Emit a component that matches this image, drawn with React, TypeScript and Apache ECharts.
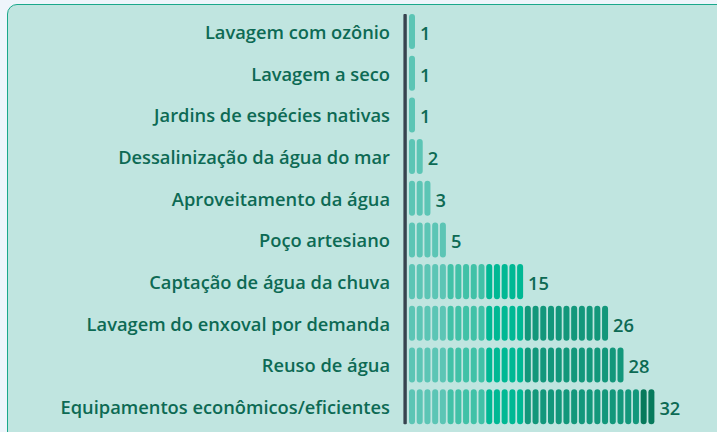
import React, { useEffect, useRef } from "react";
import * as echarts from "echarts";

const categories = [
  "Lavagem com ozônio",
  "Lavagem a seco",
  "Jardins de espécies nativas",
  "Dessalinização da água do mar",
  "Aproveitamento da água",
  "Poço artesiano",
  "Captação de água da chuva",
  "Lavagem do enxoval por demanda",
  "Reuso de água",
  "Equipamentos econômicos/eficientes",
];
const values = [1, 1, 1, 2, 3, 5, 15, 26, 28, 32];

const TEXT = "#0d6a54";
const FONT = "'Open Sans', 'Noto Sans', sans-serif";

function unitColor(i: number): string {
  if (i < 5) return "#5cc5b5";
  if (i < 10) return "#41c1a7";
  if (i < 15) return "#00b894";
  if (i < 30) return "#13977b";
  return "#077a5c";
}

export default function App() {
  const ref = useRef<HTMLDivElement>(null);
  useEffect(() => {
    if (!ref.current) return;
    const chart = echarts.init(ref.current, null, { renderer: "svg" });
    const barRatio = 0.84;
    chart.setOption({
      animation: false,
      grid: { left: 405, right: 34, top: 10.7, bottom: 4.5, containLabel: false },
      xAxis: { type: "value", min: 0, max: 36, show: false },
      yAxis: {
        type: "category",
        data: categories,
        inverse: true,
        axisLine: { show: false },
        axisTick: { show: false },
        splitLine: { show: false },
        axisLabel: {
          color: TEXT,
          fontFamily: FONT,
          fontWeight: 600,
          fontSize: 18.3,
          margin: 15,
        },
      },
      series: [
        {
          type: "custom",
          data: values.map((v, i) => [v, i]),
          encode: { x: 0, y: 1 },
          renderItem: (params: any, api: any) => {
            const v = api.value(0);
            const cat = api.value(1);
            const unit = api.size([1, 0])[0];
            const band = api.size([0, 1])[1];
            const p = api.coord([0, cat]);
            const h = band * barRatio;
            const children: any[] = [];
            for (let i = 0; i < v; i++) {
              children.push({
                type: "rect",
                shape: { x: p[0] + i * unit + 4, y: p[1] - h / 2, width: 6, height: h, r: 3 },
                style: { fill: unitColor(i) },
              });
            }
            children.push({
              type: "text",
              style: {
                x: p[0] + (v - 1) * unit + 15,
                y: p[1] + 1,
                text: String(v),
                fill: TEXT,
                font: `600 18.3px ${FONT}`,
                verticalAlign: "middle",
                align: "left",
              },
            });
            return { type: "group", children };
          },
        },
      ],
    });
    const first = chart.convertToPixel({ yAxisIndex: 0 }, categories[0]) as number;
    const last = chart.convertToPixel({ yAxisIndex: 0 }, categories[categories.length - 1]) as number;
    const x0 = chart.convertToPixel({ xAxisIndex: 0 }, 0) as number;
    const band = (last - first) / (categories.length - 1);
    const h = band * barRatio;
    chart.setOption({
      graphic: [
        {
          type: "rect",
          shape: { x: x0 - 1.6, y: first - h / 2, width: 3.4, height: last - first + h, r: 1 },
          style: { fill: "#37434f" },
          silent: true,
        },
      ],
    });
    return () => chart.dispose();
  }, []);
  return (
    <div style={{ position: "fixed", left: 0, top: 0, width: 717, height: 432, background: "#eef5fb", overflow: "hidden" }}>
      <div
        style={{
          position: "absolute",
          left: 7,
          top: 4,
          width: 740,
          height: 460,
          background: "#c0e5e0",
          border: "1.5px solid #1aa88b",
          borderRadius: 10,
          boxSizing: "border-box",
        }}
      />
      <div ref={ref} style={{ position: "absolute", left: 0, top: 0, width: 717, height: 432 }} />
    </div>
  );
}
